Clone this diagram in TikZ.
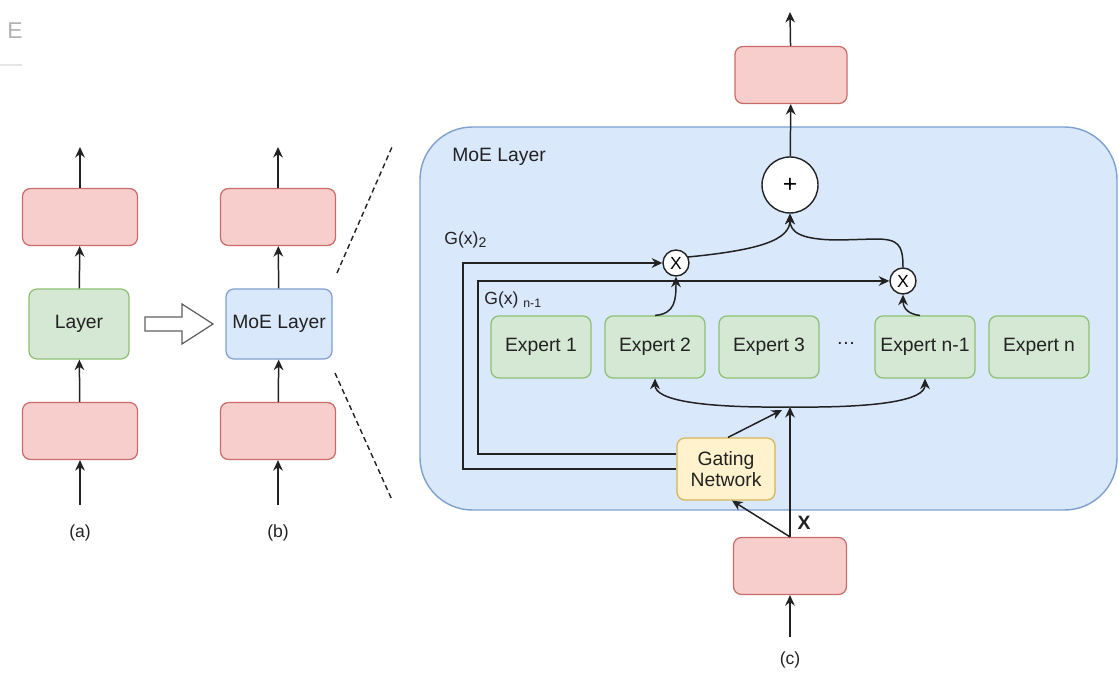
\documentclass[tikz,border=0pt]{standalone}
\usepackage{fontspec}
\setmainfont{Liberation Sans}
\usetikzlibrary{arrows.meta,calc}
\definecolor{redf}{HTML}{F8CECC}\definecolor{redd}{HTML}{C96B68}
\definecolor{grnf}{HTML}{D5E8D4}\definecolor{grnd}{HTML}{8DBF72}
\definecolor{bluf}{HTML}{DAE8FC}\definecolor{blud}{HTML}{7EA0CF}
\definecolor{yelf}{HTML}{FFF2CC}\definecolor{yeld}{HTML}{D6B656}
\definecolor{txt}{HTML}{222222}
\tikzset{
  box/.style={rectangle,rounded corners=4.5pt,line width=0.7pt,text=txt,font=\fontsize{11}{13}\selectfont,inner sep=0pt},
  redbox/.style={box,fill=redf,draw=redd,minimum width=2.3cm,minimum height=1.14cm},
  expbox/.style={box,fill=grnf,draw=grnd,minimum width=2.0cm,minimum height=1.24cm},
  mult/.style={circle,draw=txt,fill=white,line width=0.8pt,minimum size=0.52cm,inner sep=0pt,font=\fontsize{10}{12}\selectfont},
  arr/.style={draw=txt,line width=0.85pt,-{Stealth[length=6pt,width=5.5pt]}},
  ln/.style={draw=txt,line width=0.85pt},
  lbl/.style={text=txt,inner sep=0pt},
}
\begin{document}
\begin{tikzpicture}[x=0.02cm,y=-0.02cm]
\useasboundingbox (0,0) rectangle (1119,678);
% artifacts
\node[lbl,text=gray!60,font=\fontsize{13}{15}\selectfont] (art) at (15,31) {E};
\draw[gray!20,line width=1pt] (0,65) -- (22,65);
% big MoE area
\draw[fill=bluf,draw=blud,line width=0.8pt,rounded corners=1.05cm] (420,127) rectangle (1117,510);
\node[lbl,anchor=west,font=\fontsize{11}{13}\selectfont] (moelbl) at (452,157) {MoE Layer};
% column (a)
\node[redbox] (a2) at (80,217) {};
\node[box,fill=grnf,draw=grnd,minimum width=2.0cm,minimum height=1.4cm] (lay) at (79,324) {Layer};
\node[redbox] (a1) at (80,431) {};
\coordinate (ain) at (80,505);
\coordinate (aout) at (80,147);
\draw[arr] (ain) -- (a1);
\draw[arr] (a1) -- (lay);
\draw[arr] (lay) -- (a2);
\draw[arr] (a2) -- (aout);
\node[lbl,font=\fontsize{10}{12}\selectfont] (la) at (80,533) {(a)};
% column (b)
\node[redbox] (b2) at (278,217) {};
\node[box,fill=bluf,draw=blud,minimum width=2.12cm,minimum height=1.4cm] (moe) at (279,324) {MoE Layer};
\node[redbox] (b1) at (278,431) {};
\coordinate (bin) at (278,505);
\coordinate (bout) at (278,147);
\draw[arr] (bin) -- (b1);
\draw[arr] (b1) -- (moe);
\draw[arr] (moe) -- (b2);
\draw[arr] (b2) -- (bout);
\node[lbl,font=\fontsize{10}{12}\selectfont] (lb) at (278,533) {(b)};
% hollow arrow
\draw[draw=gray!75!black,fill=white,line width=0.7pt] (145,317) -- (182,317) -- (182,304) -- (213,324) -- (182,344) -- (182,331) -- (145,331) -- cycle;
% dashed zoom lines
\draw[txt,line width=0.8pt,dash pattern=on 3pt off 2pt] (337,273) -- (392,147);
\draw[txt,line width=0.8pt,dash pattern=on 3pt off 2pt] (335,373) -- (392,500);
% (c)
\node[redbox,minimum width=2.24cm] (top) at (791,75) {};
\node[redbox,minimum width=2.26cm] (bot) at (790,566) {};
\coordinate (cin) at (790,637);
\coordinate (cout) at (790,12);
\node[circle,draw=txt,fill=white,line width=0.8pt,minimum size=1.12cm,inner sep=0pt,font=\fontsize{14}{16}\selectfont] (plus) at (790,185) {+};
\node[mult] (x1) at (676,263) {X};
\node[mult] (x2) at (903,281) {X};
\node[expbox] (e1) at (541,347) {Expert 1};
\node[expbox] (e2) at (655,347) {Expert 2};
\node[expbox] (e3) at (769,347) {Expert 3};
\node[lbl,font=\fontsize{11}{13}\selectfont] (dots) at (846,343) {\dots};
\node[expbox] (en1) at (925,347) {Expert n-1};
\node[expbox] (en) at (1039,347) {Expert n};
\node[box,fill=yelf,draw=yeld,minimum width=1.96cm,minimum height=1.24cm,align=center] (gate) at (726,469) {Gating\\[-1pt]Network};
\coordinate (j) at (790,407);
\coordinate (jg) at (782,410);
\draw[arr] (cin) -- (bot);
\draw[arr] (top) -- (cout);
\draw[arr] (plus) -- (top);
\draw[arr] (bot.north) -- (j);
\draw[arr] (bot.north) -- ($(gate.south)+(6,0)$);
\draw[arr] ($(gate.north)+(2,0)$) -- (jg);
\draw[arr] (j) .. controls (700,408) and (655,400) .. (e2.south);
\draw[arr] (j) .. controls (880,408) and (925,400) .. (en1.south);
\draw[arr] (e2.north) .. controls (675,314) and (676,300) .. (x1.south);
\draw[arr] ($(en1.north)+(-5,0)$) .. controls (905,314) and (903,305) .. (x2.south);
\draw[arr] ($(x1.center)+(12,-6)$) .. controls (760,250) and (790,240) .. (plus.south);
\draw[arr] (x2.north) .. controls (903,244) and (898,239) .. (875,239) -- (840,240) .. controls (800,240) and (790,232) .. (plus.south);
\draw[arr] (gate.west) -- (463,469) -- (463,263) -- (x1.west);
\draw[arr] ($(gate.west)+(0,-15)$) -- (478,454) -- (478,281) -- (x2.west);
\node[lbl,anchor=west,font=\fontsize{10}{12}\selectfont] (g2) at (444,240) {G(x)\raisebox{-0.35ex}{\fontsize{8}{9}\selectfont 2}};
\node[lbl,anchor=west,font=\fontsize{10}{12}\selectfont] (gn) at (484,300) {G(x) \raisebox{-0.35ex}{\fontsize{7}{9}\selectfont n-1}};
\node[lbl,font=\bfseries\fontsize{11}{13}\selectfont] (xl) at (804,523) {X};
\node[lbl,font=\fontsize{10}{12}\selectfont] (lc) at (790,660) {(c)};
\end{tikzpicture}
\end{document}
